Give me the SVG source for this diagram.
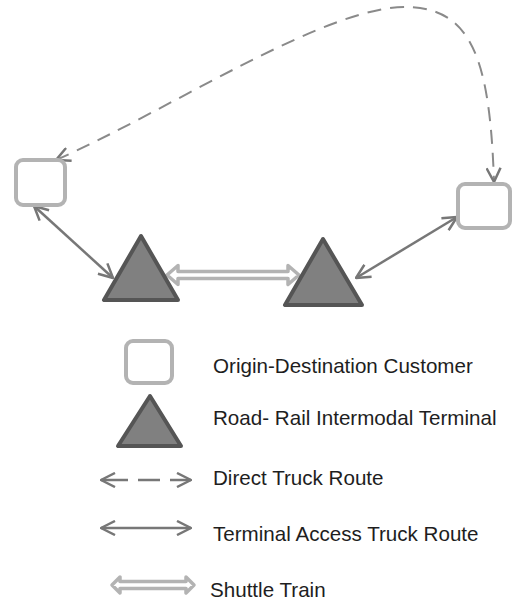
<svg xmlns="http://www.w3.org/2000/svg" width="512" height="602" viewBox="0 0 512 602">
<defs>
<style>
.cust{fill:#fff;stroke:#b3b3b3;stroke-width:4}
.term{fill:#808080;stroke:#555;stroke-width:4;stroke-linejoin:round}
.acc{fill:none;stroke:#777;stroke-width:2.5}
.dir{fill:none;stroke:#8a8a8a;stroke-width:2;stroke-dasharray:14 9}
.shut{fill:#fff;stroke:#b3b3b3;stroke-width:3.5;stroke-linejoin:round}
.lbl{font-family:"Liberation Sans",Arial,sans-serif;font-size:20.6px;fill:#1e1e1e}
</style>
<marker id="chev" viewBox="0 0 16 16" refX="15" refY="8" markerWidth="16" markerHeight="16" markerUnits="userSpaceOnUse" orient="auto-start-reverse">
<path d="M1,1 L15,8 L1,15" fill="none" stroke="#777" stroke-width="2.5" stroke-linejoin="round"/>
</marker>
</defs>
<rect width="512" height="602" fill="#fff"/>
<g id="connectors">
<path class="dir" d="M56,160 C170,110 330,3 410,7 C472,10 490,60 494,182" marker-start="url(#chev)" marker-end="url(#chev)"/>
<line class="acc" x1="34" y1="206" x2="113" y2="278" marker-start="url(#chev)" marker-end="url(#chev)"/>
<line class="acc" x1="356" y1="278" x2="457" y2="217" marker-start="url(#chev)" marker-end="url(#chev)"/>
<polygon id="shuttle" class="shut" points="167,275 178,265.5 178,271.5 288,271.5 288,265.5 299,275 288,284.5 288,278.5 178,278.5 178,284.5"/>
</g>
<g id="customer-left"><rect class="cust" x="16" y="160" width="49" height="45" rx="7"/></g>
<g id="customer-right"><rect class="cust" x="458" y="184" width="52" height="44" rx="7"/></g>
<g id="terminal-left"><polygon class="term" points="141,236 104,300 178,300"/></g>
<g id="terminal-right"><polygon class="term" points="323,239 285,305 362,305"/></g>
<g id="legend">
<rect class="cust" x="126" y="341" width="46" height="42" rx="7"/>
<text class="lbl" x="213" y="373">Origin-Destination Customer</text>
<polygon class="term" points="150,396 118,446 181,446"/>
<text class="lbl" x="213" y="425">Road- Rail Intermodal Terminal</text>
<line class="acc" x1="101" y1="480" x2="128" y2="480" marker-start="url(#chev)"/>
<line class="acc" x1="138" y1="480" x2="160" y2="480"/>
<line class="acc" x1="170" y1="480" x2="191" y2="480" marker-end="url(#chev)"/>
<text class="lbl" x="213" y="485">Direct Truck Route</text>
<line class="acc" x1="101" y1="528" x2="191" y2="528" marker-start="url(#chev)" marker-end="url(#chev)"/>
<text class="lbl" x="213" y="541">Terminal Access Truck Route</text>
<polygon class="shut" points="112,585 120,577 120,581.5 186,581.5 186,577 194,585 186,593 186,588.5 120,588.5 120,593"/>
<text class="lbl" x="210" y="597">Shuttle Train</text>
</g>
</svg>
